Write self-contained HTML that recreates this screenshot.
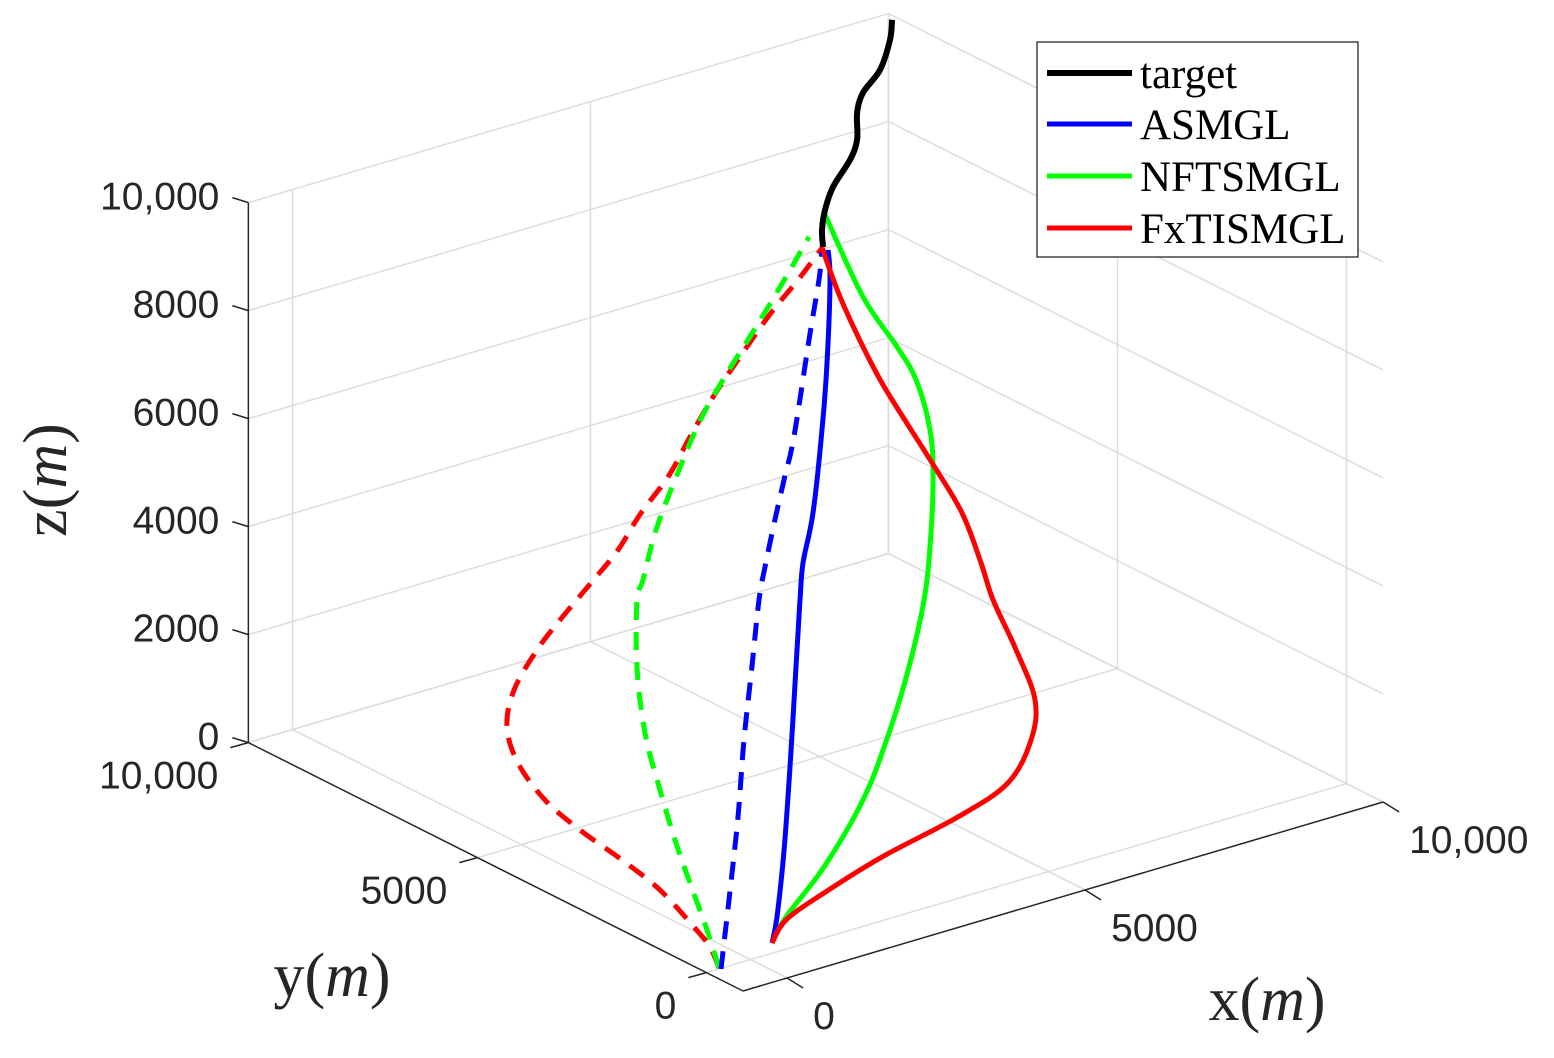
<!DOCTYPE html>
<html><head><meta charset="utf-8"><style>
html,body{margin:0;padding:0;background:#fff;}
svg{display:block;}
.tick{font-family:"Liberation Sans",sans-serif;font-size:39px;fill:#262626;}
.ttl{font-family:"Liberation Serif",serif;font-size:62px;fill:#262626;}
.leg{font-family:"Liberation Serif",serif;font-size:43px;fill:#000;}
</style></head><body>
<svg id="chart" width="1554" height="1058" viewBox="0 0 1554 1058" xmlns="http://www.w3.org/2000/svg">
<g id="grid"></g>
<g id="axes"></g>
<g id="series"></g>
<g id="legend">
  <rect x="1037" y="42" width="321" height="215" fill="#fff" stroke="#262626" stroke-width="1.3"/>
  <g><line x1="1047" y1="73" x2="1132" y2="73" stroke="#000" stroke-width="6"/><text class="leg" x="1140" y="88">target</text></g>
  <g><line x1="1047" y1="124" x2="1132" y2="124" stroke="#0000ff" stroke-width="5"/><text class="leg" x="1140" y="139">ASMGL</text></g>
  <g><line x1="1047" y1="176" x2="1132" y2="176" stroke="#00ff00" stroke-width="5"/><text class="leg" x="1140" y="191">NFTSMGL</text></g>
  <g><line x1="1047" y1="228" x2="1132" y2="228" stroke="#ff0000" stroke-width="5"/><text class="leg" x="1140" y="243">FxTISMGL</text></g>
</g>
</svg>
<script>
// ---- data ----
const xTicks = [0, 5000, 10000];
const yTicks = [0, 5000, 10000];
const zTicks = [0, 2000, 4000, 6000, 8000, 10000];
const xTickLabels = ["0", "5000", "10,000"];
const yTickLabels = ["0", "5000", "10,000"];
const zTickLabels = ["0", "2000", "4000", "6000", "8000", "10,000"];

const targetX = [1433,1416,1467,1601,1886,2004,2004,2104,2390,2557,2591];
const targetY = [280,280,280,280,280,280,280,280,280,280,280];
const targetZ = [12610,12930,13290,13670,14075,14410,14910,15250,15580,16080,16440];

const asmglX = [577,661,779,879,980,1047,1097,1265,1416,1500,1550,1517];
const asmglY = [280,280,280,280,280,280,280,280,280,280,280,280];
const asmglZ = [0,456,1658,3161,4982,6200,6869,7740,9229,10441,11962,12529];

const nftsmglX = [577,812,1450,2104,2540,2876,3128,3228,3279,3228,2994,2675,2104,1467];
const nftsmglY = [280,280,280,280,280,280,280,280,280,280,280,280,280,280];
const nftsmglZ = [0,406,1124,2152,3250,4363,5523,6471,7695,8638,9640,10355,11468,13194];

const fxtismglX = [577,812,1450,2423,3698,4537,4923,4990,4672,4286,4084,3765,3262,2490,2104,1718,1416];
const fxtismglY = [280,280,280,280,280,280,280,280,280,280,280,280,280,280,280,280,280];
const fxtismglZ = [0,350,643,993,1317,1674,2345,3063,4093,5145,5895,6925,8015,9619,10542,11594,12599];

const asmgl2X = [-510,-510,-510,-510,-510,-510,-510,-510,-510,-510,-510,-510,-510];
const asmgl2Y = [-20,-194,-391,-522,-696,-849,-980,-1198,-1395,-1613,-1941,-2159,-2224];
const asmgl2Z = [0,1352,2973,4455,5881,7186,7854,8818,9642,10531,12467,13672,14218];

const nftsmgl2X = [-510,-510,-510,-510,-510,-510,-510,-510,-510,-510,-510,-510,-510,-510,-510,-510];
const nftsmgl2Y = [24,308,657,985,1312,1639,1814,1814,1683,1399,897,395,-194,-784,-1439,-1941];
const nftsmgl2Z = [0,639,1304,1962,2748,3665,4812,6053,6480,7526,8851,10047,11167,12215,13420,14375];

const fxtismgl2X = [-510,-510,-510,-510,-510,-510,-510,-510,-510,-510,-510,-510,-510,-510,-510,-510,-510,-510,-510,-510,-510,-510];
const fxtismgl2Y = [24,220,570,1312,2141,3058,3822,4412,4652,4499,3997,3495,2818,2229,1727,1137,657,155,-434,-1111,-1701,-2246];
const fxtismgl2Z = [0,305,527,896,1099,1264,1493,1926,2491,3241,4197,4966,5940,6802,7701,8619,9564,10519,11510,12614,13475,14320];

// ---- projection ----
const XMIN=-740, XMAX=10000, YMIN=-800, YMAX=10000, ZMIN=0, ZMAX=10000;
function px(x,y,z){ return 743 + (x-XMIN)*0.0596 - (y-YMIN)*0.0458; }
function py(x,y,z){ return 991 - (x-XMIN)*0.0176 - (y-YMIN)*0.023 - z*0.054; }

const NS="http://www.w3.org/2000/svg";
function mk(tag, attrs, parent){
  const el=document.createElementNS(NS,tag);
  for(const k in attrs) el.setAttribute(k,attrs[k]);
  parent.appendChild(el); return el;
}
function seg(p,q,parent,color,w){
  return mk('line',{x1:px(...p),y1:py(...p),x2:px(...q),y2:py(...q),stroke:color,'stroke-width':w},parent);
}
const grid=document.getElementById('grid');
const axes=document.getElementById('axes');
const series=document.getElementById('series');
const GC='#dcdcdc';

zTicks.forEach(z=>{
  const l=seg([XMIN,YMAX,z],[XMAX,YMAX,z],grid,GC,1.5);
  
  
  const l2=seg([XMAX,YMAX,z],[XMAX,YMIN,z],grid,GC,1.5);
  
  
});
xTicks.forEach(x=>{
  const l=seg([x,YMAX,ZMIN],[x,YMAX,ZMAX],grid,GC,1.5);
  
  
  const f=seg([x,YMIN,0],[x,YMAX,0],grid,GC,1.5);
  
  
});
yTicks.forEach(y=>{
  const l=seg([XMAX,y,ZMIN],[XMAX,y,ZMAX],grid,GC,1.5);
  
  
  const f=seg([XMIN,y,0],[XMAX,y,0],grid,GC,1.5);
  
  
});

const AC='#262626';
let a=seg([XMIN,YMIN,0],[XMAX,YMIN,0],axes,AC,1.5);


a=seg([XMIN,YMIN,0],[XMIN,YMAX,0],axes,AC,1.5);


a=seg([XMIN,YMAX,ZMIN],[XMIN,YMAX,ZMAX],axes,AC,1.5);



xTicks.forEach((x,i)=>{
  const sx=px(x,YMIN,0), sy=py(x,YMIN,0);
  const t=mk('line',{x1:sx,y1:sy,x2:sx+16,y2:sy+10,stroke:AC,'stroke-width':1.5},axes);
  
  
  const lb=mk('text',{x:sx+26,y:sy+51,'text-anchor':'start',class:'tick'},axes);
  lb.textContent=xTickLabels[i];
  
  
});
yTicks.forEach((y,i)=>{
  const sx=px(XMIN,y,0), sy=py(XMIN,y,0);
  const t=mk('line',{x1:sx,y1:sy,x2:sx-18,y2:sy+5,stroke:AC,'stroke-width':1.5},axes);
  
  
  const lb=mk('text',{x:sx-30,y:sy+46,'text-anchor':'end',class:'tick'},axes);
  lb.textContent=yTickLabels[i];
  
  
});
zTicks.forEach((z,i)=>{
  const sx=px(XMIN,YMAX,z), sy=py(XMIN,YMAX,z);
  const t=mk('line',{x1:sx,y1:sy,x2:sx-16,y2:sy-5,stroke:AC,'stroke-width':1.5},axes);
  
  
  const lb=mk('text',{x:sx-29,y:sy+7,'text-anchor':'end',class:'tick'},axes);
  lb.textContent=zTickLabels[i];
  
  
});

function title(txt,x,y,rot,name){
  const t=mk('text',{x:x,y:y,'text-anchor':'middle',class:'ttl'},axes);
  if(rot) t.setAttribute('transform','rotate(-90 '+x+' '+y+')');
  t.innerHTML=txt;
  
  
}
title('x(<tspan font-style="italic">m</tspan>)',1267,1020,false,'x-axis-title');
title('y(<tspan font-style="italic">m</tspan>)',332,996,false,'y-axis-title');
title('z(<tspan font-style="italic">m</tspan>)',66,480,true,'z-axis-title');

// series (smoothed through projected points with Catmull-Rom)
function path(X,Y,Z,color,w,dash,name){
  const P=[];
  for(let i=0;i<X.length;i++) P.push([px(X[i],Y[i],Z[i]),py(X[i],Y[i],Z[i])]);
  let d='M'+P[0][0].toFixed(1)+' '+P[0][1].toFixed(1);
  for(let i=0;i<P.length-1;i++){
    const p0=P[Math.max(0,i-1)],p1=P[i],p2=P[i+1],p3=P[Math.min(P.length-1,i+2)];
    const c1=[p1[0]+(p2[0]-p0[0])/6,p1[1]+(p2[1]-p0[1])/6];
    const c2=[p2[0]-(p3[0]-p1[0])/6,p2[1]-(p3[1]-p1[1])/6];
    d+='C'+c1[0].toFixed(1)+' '+c1[1].toFixed(1)+' '+c2[0].toFixed(1)+' '+c2[1].toFixed(1)+' '+p2[0].toFixed(1)+' '+p2[1].toFixed(1);
  }
  const p=mk('path',{d:d,fill:'none',stroke:color,'stroke-width':w,'stroke-linejoin':'round','stroke-linecap':'butt'},series);
  if(dash) p.setAttribute('stroke-dasharray',dash);
  
  
}
path(fxtismgl2X,fxtismgl2Y,fxtismgl2Z,'#ff0000',5,'18 12','fxtismgl-dashed-line');
path(nftsmgl2X,nftsmgl2Y,nftsmgl2Z,'#00ff00',5,'18 12','nftsmgl-dashed-line');
path(asmgl2X,asmgl2Y,asmgl2Z,'#0000ff',5,'18 12','asmgl-dashed-line');
path(asmglX,asmglY,asmglZ,'#0000ff',5,null,'asmgl-line');
path(nftsmglX,nftsmglY,nftsmglZ,'#00ff00',5,null,'nftsmgl-line');
path(fxtismglX,fxtismglY,fxtismglZ,'#ff0000',5,null,'fxtismgl-line');
path(targetX,targetY,targetZ,'#000000',6,null,'target-line');
</script>
</body></html>
